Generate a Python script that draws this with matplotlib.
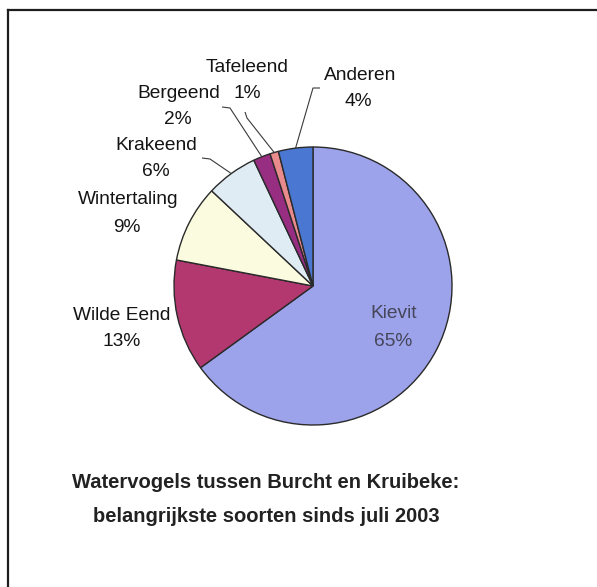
import numpy as np
import matplotlib
matplotlib.use("Agg")
import matplotlib.pyplot as plt
from matplotlib.lines import Line2D

# ---- data ----
categories = ["Kievit", "Wilde Eend", "Wintertaling", "Krakeend", "Bergeend", "Tafeleend", "Anderen"]
values = [65, 13, 9, 6, 2, 1, 4]
colors = ["#9DA3EA", "#B3386F", "#FBFBE0", "#E0ECF4", "#972E82", "#E98A8C", "#4A77D2"]
title_lines = ["Watervogels tussen Burcht en Kruibeke:", "belangrijkste soorten sinds juli 2003"]

W, H = 597, 587
plt.rcParams['font.family'] = ['Liberation Sans', 'DejaVu Sans']

fig = plt.figure(figsize=(W / 100, H / 100), dpi=100)
fig.patch.set_facecolor("white")
ax = fig.add_axes([0, 0, 1, 1])

def Y(y):  # pixel row (from top) -> data y (up)
    return H - y

cx, cy, R = 313, Y(286), 139
wedges, _ = ax.pie(values, colors=colors, startangle=90, counterclock=False,
                   center=(cx, cy), radius=R,
                   wedgeprops=dict(edgecolor="#2a2a2a", linewidth=1.0))
ax.set_xlim(0, W)
ax.set_ylim(0, H)
ax.set_aspect("equal")
ax.axis("off")

fs = 13.8
txt_color = "#141414"
total = sum(values)

# label layout: (x_center, y_first_line), (x_center, y_second_line), leader elbow points (pixel rows)
layout = {
    "Kievit":       ((394, 313), (393, 341), None),
    "Wilde Eend":   ((122, 316), (122, 342), None),
    "Wintertaling": ((128, 200), (127, 227), None),
    "Krakeend":     ((156, 145), (156, 172), [(202, 158), (210, 159)]),
    "Bergeend":     ((179, 94), (178, 120), [(222, 107), (230, 108)]),
    "Tafeleend":    ((247, 67), (247, 94), [(245, 112), (247, 118)]),
    "Anderen":      ((360, 76), (358, 102), [(320, 88), (313, 88)]),
}

for w, cat, v in zip(wedges, categories, values):
    (x1, y1), (x2, y2), leader = layout[cat]
    col = "#45465a" if cat == "Kievit" else txt_color
    ax.text(x1, Y(y1), cat, ha="center", va="center", fontsize=fs, color=col)
    ax.text(x2, Y(y2), f"{round(100 * v / total)}%", ha="center", va="center",
            fontsize=fs, color=col)
    if leader:
        th = np.deg2rad((w.theta1 + w.theta2) / 2)
        ex, ey = cx + R * np.cos(th), cy + R * np.sin(th)
        xs = [p[0] for p in leader] + [ex]
        ys = [Y(p[1]) for p in leader] + [ey]
        ax.plot(xs, ys, color="#3a3a3a", lw=0.8, solid_capstyle="butt")

# title
ax.text(266, Y(483), title_lines[0], ha="center", va="center", fontsize=14.5,
        fontweight="bold", color="#222222")
ax.text(266, Y(516), title_lines[1], ha="center", va="center", fontsize=14.5,
        fontweight="bold", color="#222222")

# frame (top and left edges)
fig.add_artist(Line2D([8 / W, 1.0], [1 - 10 / H, 1 - 10 / H], transform=fig.transFigure,
                      color="#1e1e1e", lw=1.6))
fig.add_artist(Line2D([8 / W, 8 / W], [0, 1 - 10 / H], transform=fig.transFigure,
                      color="#1e1e1e", lw=1.6))

fig.savefig("out.png", dpi=100, facecolor="white")
